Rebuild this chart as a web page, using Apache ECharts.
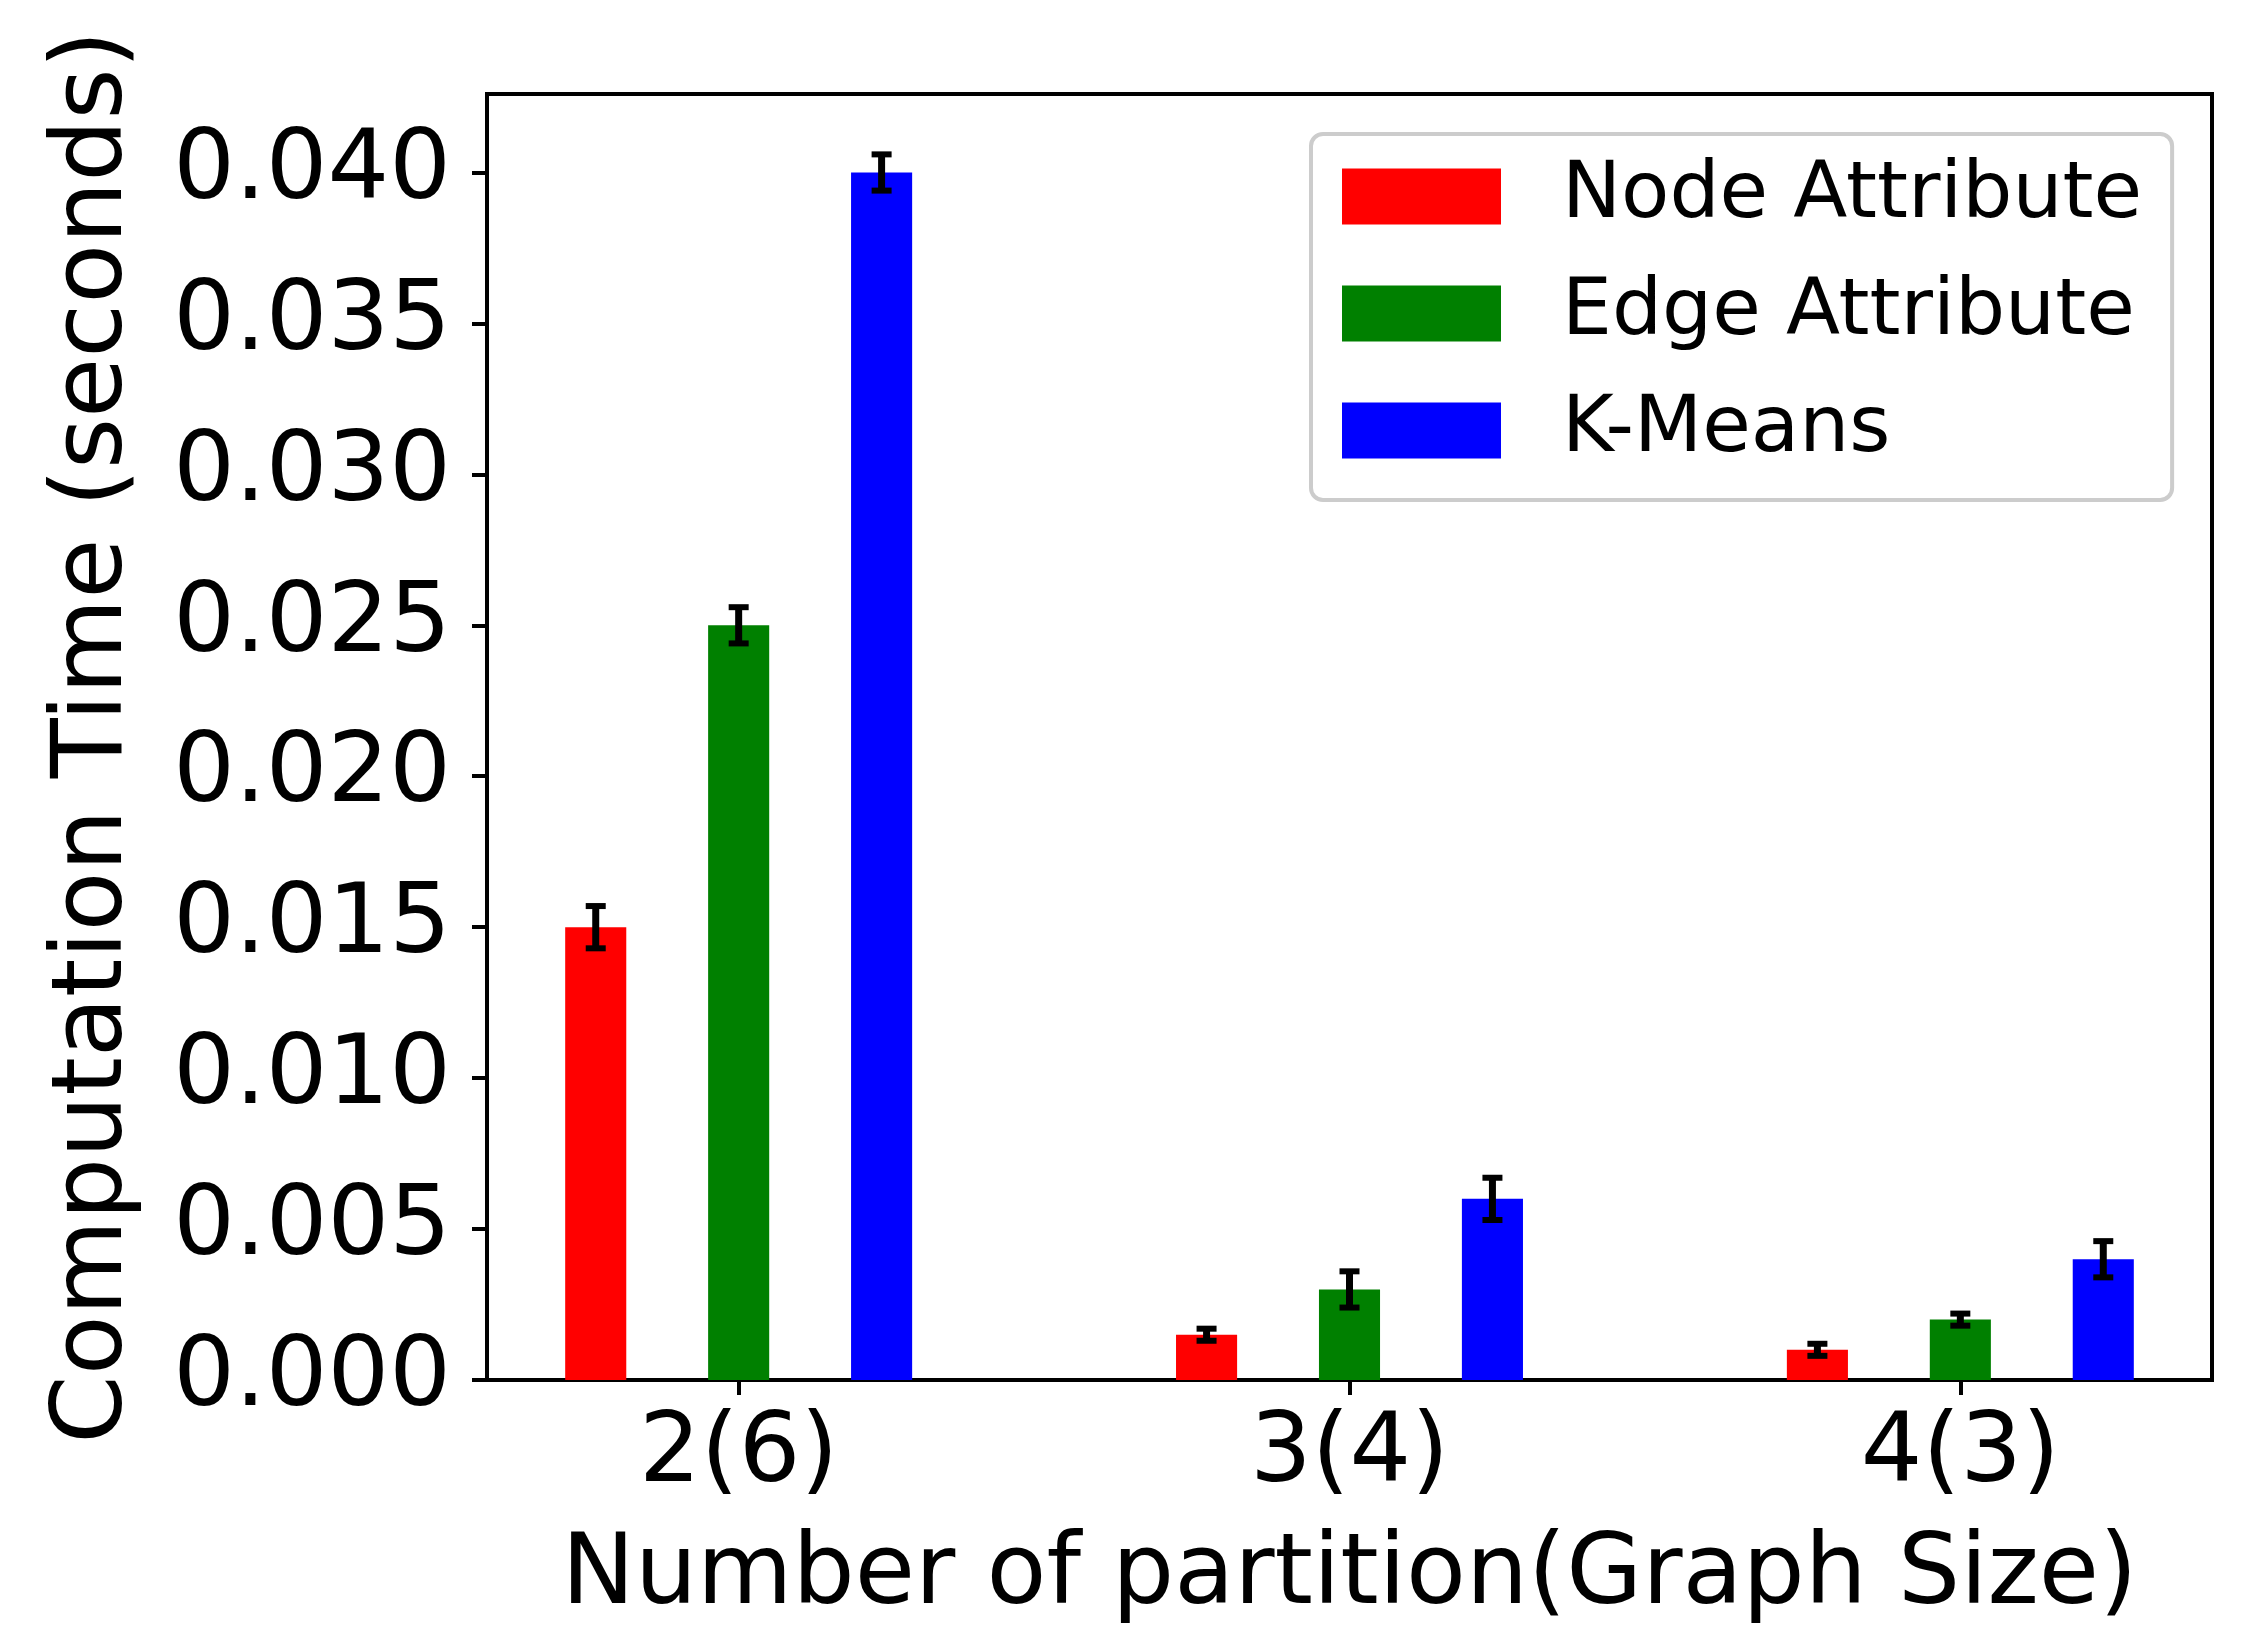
<!DOCTYPE html>
<html>
<head>
<meta charset="utf-8">
<script src="https://cdn.jsdelivr.net/npm/echarts@6/dist/echarts.min.js"></script>
<style>
html, body { margin: 0; padding: 0; background: #fff; }
#chart { width: 2252px; height: 1643px; }
</style>
</head>
<body>
<div id="chart"></div>
<script>
const categories = ['2(6)', '3(4)', '4(3)'];
const seriesNames = ['Node Attribute', 'Edge Attribute', 'K-Means'];
const nodeAttr = [0.015, 0.0015, 0.001];
const nodeAttrErr = [0.0007, 0.0002, 0.0002];
const edgeAttr = [0.025, 0.003, 0.002];
const edgeAttrErr = [0.0006, 0.0006, 0.0002];
const kMeans = [0.040, 0.006, 0.004];
const kMeansErr = [0.0006, 0.0007, 0.0006];
const yTicks = [0, 0.005, 0.010, 0.015, 0.020, 0.025, 0.030, 0.035, 0.040];
const xTicks = [0, 1, 2];

const colors = ['#ff0000', '#008000', '#0000ff'];
const offsets = [-0.234, 0, 0.234];
const barW = 0.1;
const FONT = 'DejaVu Sans';

function buildData(vals, errs, k) {
  return vals.map((v, i) => [i + offsets[k], v, errs[i]]);
}

function renderItem(params, api) {
  const x = api.value(0), y = api.value(1), e = api.value(2);
  const base = api.coord([x, 0]);
  const top = api.coord([x, y]);
  const w = api.size([barW, 0])[0];
  const et = api.coord([x, y + e]);
  const eb = api.coord([x, y - e]);
  const color = api.visual('color');
  const cap = 10;
  return {
    type: 'group',
    children: [
      { type: 'rect', shape: { x: base[0] - w / 2, y: top[1], width: w, height: base[1] - top[1] }, style: { fill: color } },
      { type: 'line', shape: { x1: base[0], y1: et[1], x2: base[0], y2: eb[1] }, style: { stroke: '#000', lineWidth: 7 } },
      { type: 'line', shape: { x1: base[0] - cap, y1: et[1], x2: base[0] + cap, y2: et[1] }, style: { stroke: '#000', lineWidth: 6 } },
      { type: 'line', shape: { x1: base[0] - cap, y1: eb[1], x2: base[0] + cap, y2: eb[1] }, style: { stroke: '#000', lineWidth: 6 } }
    ]
  };
}

const allVals = [nodeAttr, edgeAttr, kMeans];
const allErrs = [nodeAttrErr, edgeAttrErr, kMeansErr];

const chart = echarts.init(document.getElementById('chart'), null, { renderer: 'canvas' });
chart.setOption({
  animation: false,
  backgroundColor: '#ffffff',
  textStyle: { fontFamily: FONT, color: '#000' },
  grid: { left: 487, right: 40, top: 94, bottom: 263, show: true, borderColor: '#000', borderWidth: 4, backgroundColor: 'transparent' },
  legend: {
    orient: 'vertical',
    left: 1311,
    top: 134,
    padding: [23, 30, 30, 31],
    itemWidth: 159,
    itemHeight: 56,
    itemGap: 38,
    icon: 'rect',
    borderColor: '#cccccc',
    borderWidth: 4,
    borderRadius: 12,
    backgroundColor: '#ffffff',
    textStyle: { fontFamily: FONT, fontSize: 79, color: '#000', padding: [16, 0, 0, 56] },
    data: seriesNames
  },
  xAxis: {
    type: 'value',
    min: -0.412,
    max: 2.412,
    splitLine: { show: false },
    axisLine: { onZero: false, lineStyle: { color: '#000', width: 4 } },
    axisTick: { customValues: xTicks, length: 15, lineStyle: { color: '#000', width: 4 } },
    axisLabel: {
      customValues: xTicks,
      formatter: v => categories[Math.round(v)],
      fontFamily: FONT, fontSize: 97, color: '#000', margin: 27
    },
    name: 'Number of partition(Graph Size)',
    nameLocation: 'middle',
    nameGap: 149,
    nameTextStyle: { fontFamily: FONT, fontSize: 98, color: '#000' }
  },
  yAxis: {
    type: 'value',
    min: 0,
    max: 0.0426,
    splitLine: { show: false },
    axisLine: { show: true, onZero: false, lineStyle: { color: '#000', width: 4 } },
    axisTick: { show: true, customValues: yTicks, length: 15, lineStyle: { color: '#000', width: 4 } },
    axisLabel: {
      customValues: yTicks,
      formatter: v => v.toFixed(3),
      fontFamily: FONT, fontSize: 97, color: '#000', margin: 36,
      padding: [8, 0, 0, 0]
    },
    name: 'Computation Time (seconds)',
    nameLocation: 'middle',
    nameGap: 342,
    nameTextStyle: { fontFamily: FONT, fontSize: 98, color: '#000' }
  },
  series: seriesNames.map((name, k) => ({
    name: name,
    type: 'custom',
    renderItem: renderItem,
    itemStyle: { color: colors[k] },
    encode: { x: 0, y: 1 },
    data: buildData(allVals[k], allErrs[k], k)
  }))
});
</script>
</body>
</html>
